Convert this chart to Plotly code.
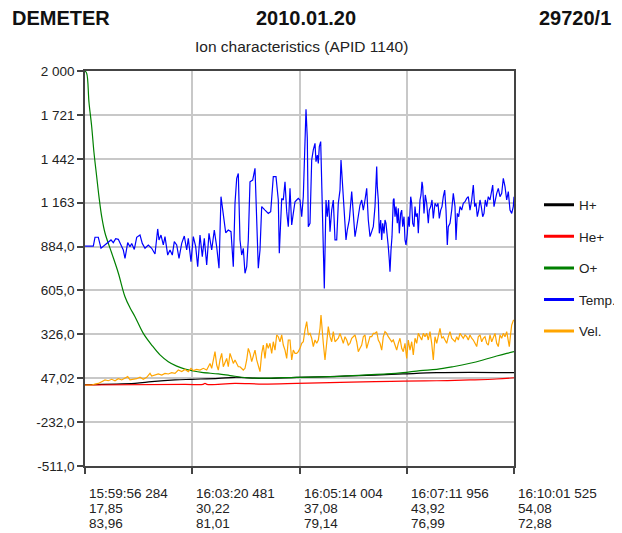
import plotly.graph_objects as go

# x positions are sample positions along the orbit segment (0..429, ticks every quarter)
x_ticks = [0, 107.25, 214.5, 321.75, 429]
x_labels = [
    ["15:59:56 284", "17,85", "83,96"],
    ["16:03:20 481", "30,22", "81,01"],
    ["16:05:14 004", "37,08", "79,14"],
    ["16:07:11 956", "43,92", "76,99"],
    ["16:10:01 525", "54,08", "72,88"],
]
y_ticks = [2000, 1721, 1442, 1163, 884, 605, 326, 47.02, -232, -511]
y_labels = ["2 000", "1 721", "1 442", "1 163", "884,0", "605,0", "326,0", "47,02", "-232,0", "-511,0"]

# Temp.
temp_x = [0, 8.3, 10, 13.3, 16, 20, 23.3, 26, 28.3, 30.7, 33.3, 36, 38.3, 40, 42.7, 45, 46.7, 49.3, 51.7, 55,
          57.3, 60, 63.3, 66.7, 70, 72.7, 74, 76, 78.3, 80, 82.7, 85, 87.3, 89.3, 91.7, 94, 96.7, 99.3, 101.7, 103.3,
          106, 108.3, 110.7, 112.7, 115, 117.3, 119.3, 121.7, 124, 126.7, 129.3, 131.7, 134, 136, 138.3, 140.7, 143.3, 146, 148.3,
          150, 151.7, 153.3, 155, 156.7, 158.3, 160, 161.7, 163.3, 165, 167.7, 170, 171.7, 173.3, 175, 176.7, 180, 183.3, 185.7, 188.3,
          191, 193.3, 194.3, 195.7, 196.7, 198.3, 200, 201.7, 203.3, 205, 206.7, 208.3, 210, 211.7, 213.3, 215, 216.7, 218.3, 220, 221,
          222.3, 223.3, 225, 226.7, 228.3, 230, 231, 232.3, 233.3, 234.3, 235.7, 236.7, 238.3, 239.3, 241, 242.3, 243.7, 245, 246.7, 248.3,
          250, 251.7, 253.3, 255, 256, 257.7, 259, 261, 262.3, 264.3, 266.7, 268.3, 270, 271.7, 273.3, 275, 276.7, 278.3, 280, 281.7,
          283.3, 285, 286.7, 288.3, 290, 291, 291.7, 292.3, 293.3, 294.3, 295.7, 296.7, 297.7, 299, 300, 301, 302.3, 303.3, 304.3, 305,
          306, 307, 308.3, 309, 310, 311, 312.3, 313.3, 314.3, 315.7, 316.7, 317.7, 319, 320, 321, 322.3, 323.3, 324.3, 325.7, 326.7,
          327.7, 329, 330, 331, 332.3, 333.3, 335, 336, 337, 337.7, 339, 340.3, 341.7, 343.3, 344.3, 345.7, 347, 348.3, 350, 351.7,
          353, 354.3, 355.7, 357, 358.3, 359.7, 361, 362.3, 363.3, 365, 366.7, 368.3, 370, 371, 372.3, 373.7, 375, 376.7, 378.3, 380,
          381.7, 383.3, 385, 386.7, 388.3, 389.7, 391, 392.3, 393.7, 395, 396.3, 397.7, 399, 400.3, 401.7, 403.3, 405, 406.7, 407.7, 409,
          410, 411.7, 413.3, 415, 416.7, 418.3, 420, 421.7, 423.3, 425, 426.7, 428.3, 429]
temp_y = [887, 887, 943, 943, 873, 894, 915, 926, 909, 934, 930, 894, 862, 809, 909, 883, 904, 866, 943, 957,
          904, 873, 894, 873, 837, 996, 926, 957, 894, 947, 830, 862, 830, 915, 894, 809, 904, 951, 862, 936,
          788, 947, 883, 756, 957, 820, 936, 767, 968, 862, 989, 883, 746, 1201, 1085, 972, 989, 979, 756,
          1159, 1318, 1349, 926, 830, 873, 714, 756, 926, 1296, 1307, 1381, 1074, 746, 862, 1138, 1116, 1095, 1106, 1328,
          1328, 1180, 841, 1042, 1190, 1180, 1296, 1106, 1010, 1254, 1021, 1095, 1169, 1180, 1190, 1180, 1074, 1201, 1614, 1756,
          1572, 1010, 1032, 1434, 1498, 1540, 1424, 1466, 1413, 1519, 1551, 1307, 862, 618, 1180, 1074, 1180, 979, 1116, 1180,
          926, 926, 1159, 1243, 1434, 1265, 1095, 926, 989, 1053, 1233, 1116, 947, 1010, 1095, 1148, 1180, 1116, 1180, 1254,
          1053, 947, 979, 1010, 1138, 1307, 1392, 1265, 1180, 968, 1053, 926, 1032, 968, 1053, 1032, 968, 883, 798, 724,
          862, 947, 1180, 1190, 1074, 1138, 1032, 1127, 968, 1095, 1116, 1010, 1074, 926, 894, 968, 1074, 1010, 1201, 1159,
          1032, 1010, 1138, 1074, 1095, 968, 1180, 1212, 1296, 1265, 1095, 1212, 1159, 1032, 1116, 1138, 1180, 1063, 1159, 1138,
          1159, 1063, 1116, 1138, 1201, 1243, 1116, 894, 1010, 1032, 1116, 1222, 1138, 926, 1095, 1074, 1138, 1116, 1159, 1169,
          1190, 1201, 1116, 1180, 1275, 1138, 1159, 1074, 1116, 1180, 1138, 1074, 1095, 1180, 1138, 1201, 1180, 1254, 1275, 1138,
          1180, 1222, 1254, 1201, 1222, 1318, 1265, 1180, 1233, 1116, 1095, 1138, 1201]

# Vel.
vel_x = [0, 3.3, 6.7, 10, 13.3, 16.7, 20, 23.3, 26.7, 30, 33.3, 36.7, 40, 42.7, 45, 48.3, 51.7, 55, 58.3, 61.7,
         65, 66.7, 70, 73.3, 76.7, 80, 83.3, 86.7, 90, 93.3, 96.7, 100, 103.3, 106, 108.3, 111.7, 115, 118.3, 121.7, 125,
         126.7, 128.3, 130, 131.7, 133.3, 135, 136.7, 138.3, 140, 141.7, 143.3, 145, 146.7, 148.3, 150, 151.7, 153.3, 155, 156.7, 158.3,
         160, 161.7, 163.3, 165, 166.7, 168.3, 170, 171.7, 173.3, 175, 176.7, 178.3, 180, 181.7, 183.3, 185, 186.7, 188.3, 190, 191.7,
         193.3, 195, 196.7, 198.3, 200, 201.7, 203.3, 205, 206.7, 208.3, 210, 211.7, 213.3, 215, 216.7, 218.3, 220, 221.7, 223.3, 225,
         226.7, 228.3, 230, 231.7, 233.3, 235, 236, 237, 238.3, 240, 241.7, 243.3, 245, 246.7, 248.3, 250, 251.7, 253.3, 255, 256.7,
         258.3, 260, 261.7, 263.3, 265, 266.7, 268.3, 270, 271.7, 273.3, 275, 276.7, 278.3, 280, 281.7, 283.3, 285, 286.7, 288.3, 290,
         291.7, 293.3, 295, 296.7, 298.3, 300, 301.7, 303.3, 305, 306.7, 308.3, 310, 311.7, 313.3, 315, 316.7, 318.3, 320, 321.7, 323.3,
         325, 326.7, 328.3, 330, 331.7, 333.3, 335, 336.7, 338.3, 340, 341.7, 343.3, 345, 346.7, 348.3, 350, 351.7, 353.3, 355, 356.7,
         358.3, 360, 361.7, 363.3, 365, 366.7, 368.3, 370, 371.7, 373.3, 375, 376.7, 378.3, 380, 381.7, 383.3, 385, 386.7, 388.3, 390,
         391.7, 393.3, 395, 396.7, 398.3, 400, 401.7, 403.3, 405, 406.7, 408.3, 410, 411.7, 413.3, 415, 416.7, 418.3, 420, 421.7, 423.3,
         424.3, 425.7, 426.7, 428.3, 429]
vel_y = [4, 4, 4, 10, 14, 25, 36, 31, 40, 31, 44, 36, 46, 57, 36, 40, 44, 53, 40, 53,
         78, 61, 67, 74, 67, 78, 74, 82, 78, 99, 89, 103, 89, 110, 95, 103, 99, 110, 99, 141,
         110, 173, 216, 131, 99, 163, 205, 120, 152, 173, 120, 205, 173, 141, 163, 142, 120, 120, 110, 99,
         110, 163, 237, 205, 152, 195, 226, 163, 131, 89, 205, 258, 173, 269, 237, 269, 205, 279, 226, 322,
         311, 279, 322, 258, 226, 173, 290, 290, 163, 226, 205, 205, 216, 237, 269, 279, 354, 407, 322, 332,
         301, 248, 290, 269, 290, 364, 449, 354, 269, 163, 279, 375, 311, 279, 343, 279, 290, 301, 332, 290,
         269, 311, 290, 258, 269, 301, 311, 322, 279, 216, 237, 258, 311, 322, 237, 269, 311, 311, 332, 332,
         343, 290, 269, 226, 311, 343, 332, 311, 290, 279, 290, 258, 226, 269, 301, 237, 216, 269, 173, 290,
         226, 279, 195, 301, 269, 332, 311, 290, 332, 311, 332, 290, 343, 269, 163, 311, 269, 311, 364, 301,
         311, 290, 269, 311, 343, 301, 290, 279, 311, 290, 332, 311, 301, 322, 311, 290, 322, 301, 290, 269,
         248, 311, 322, 279, 301, 311, 269, 258, 322, 279, 311, 332, 269, 248, 322, 301, 332, 311, 343, 279,
         248, 332, 385, 413, 417]

# O+
o_x = [0, 1.7, 4, 6.7, 9, 11.7, 14, 16.7, 20, 26.7, 33.3, 40, 45, 50, 58.3, 66.7, 75, 83.3, 91.7, 100,
       108.3, 116.7, 133.3, 145, 161.7, 178, 211.7, 245, 278, 301.7, 318, 335, 351.7, 368, 385, 398, 411.7, 421.7, 429]
o_y = [2000, 1985, 1800, 1646, 1480, 1328, 1200, 1074, 970, 843, 716, 565, 495, 438, 332, 258, 195, 152, 124, 105,
       93, 84, 74, 64, 50, 47, 53, 57, 67, 74, 82, 95, 103, 120, 142, 163, 188, 205, 216]

# H+
h_x = [0, 50, 66.7, 90, 106.7, 133.3, 150, 178, 211.7, 245, 290, 318, 351.7, 385, 429]
h_y = [6, 14, 25, 36, 40, 46, 53, 46, 53, 57, 67, 74, 82, 84, 82]

# He+
he_x = [0, 100, 118, 120, 122, 150, 178, 211.7, 245, 290, 318, 351.7, 385, 411.7, 429]
he_y = [4, 8, 8, 14, 8, 14, 10, 14, 19, 25, 29, 31, 36, 42, 50]

series = [
    ("H+", h_x, h_y, "#000000", "spline"),
    ("He+", he_x, he_y, "#ff0000", "spline"),
    ("O+", o_x, o_y, "#008000", "spline"),
    ("Temp.", temp_x, temp_y, "#0000ff", "linear"),
    ("Vel.", vel_x, vel_y, "#ffa500", "linear"),
]

FONT = "Arial, Liberation Sans, sans-serif"
# the page body keeps its default 8px margin, so the figure is drawn 8px smaller
W, H, PAD = 622, 533, 8
L, T = 85 - PAD, 71 - PAD

fig = go.Figure()
for name, xs, ys, color, shape in series:
    fig.add_trace(go.Scatter(x=xs, y=ys, mode="lines", name=name, showlegend=False,
                             line=dict(color=color, width=1.2, shape=shape)))
# legend swatches (thicker lines than the traces)
for name, xs, ys, color, shape in series:
    fig.add_trace(go.Scatter(x=[None], y=[None], mode="lines", name=name, legendgroup=name,
                             line=dict(color=color, width=3)))

fig.update_xaxes(range=[0, 429], tickvals=x_ticks, showticklabels=False, automargin=False,
                 ticks="outside", ticklen=6, tickcolor="#444", tickwidth=1.5,
                 showline=True, linecolor="#444", linewidth=1.5, mirror=True,
                 showgrid=True, gridcolor="#c8c8c8", gridwidth=1.5, zeroline=False)
fig.update_yaxes(range=[-511, 2000], tickvals=y_ticks, ticktext=y_labels, automargin=False,
                 ticks="outside", ticklen=6, tickcolor="#444", tickwidth=1.5,
                 showline=True, linecolor="#444", linewidth=1.5, mirror=True,
                 showgrid=True, gridcolor="#c8c8c8", gridwidth=1.5, zeroline=False,
                 tickfont=dict(family=FONT, size=13.5, color="#222"))

# three label rows under each x tick, 15px apart
for xv, lines in zip(x_ticks, x_labels):
    for row, line in enumerate(lines):
        fig.add_annotation(x=xv, y=0, xref="x", yref="paper", xanchor="left", yanchor="top",
                           xshift=2, yshift=-18 - 15 * row, align="left", showarrow=False,
                           text=line, font=dict(family=FONT, size=13.5, color="#222"))


def px(v):
    return (v - 85) / 429


def py(v):
    return (466 - v) / 395


head = dict(xref="paper", yref="paper", showarrow=False, yanchor="middle",
            font=dict(family=FONT, size=20, color="#111"))
fig.add_annotation(text="<b>DEMETER</b>", x=px(10), y=py(18), xanchor="left", **head)
fig.add_annotation(text="<b>2010.01.20</b>", x=px(306), y=py(18), xanchor="center", **head)
fig.add_annotation(text="<b>29720/1</b>", x=px(613), y=py(18), xanchor="right", **head)
fig.add_annotation(text="Ion characteristics (APID 1140)", x=px(301), y=py(47), xanchor="center",
                   xref="paper", yref="paper", showarrow=False, yanchor="middle",
                   font=dict(family=FONT, size=15.5, color="#222"))

fig.update_layout(
    width=W - PAD, height=H - PAD,
    margin=dict(l=L, r=W - 514, t=T, b=H - 466, autoexpand=False),
    paper_bgcolor="white", plot_bgcolor="white",
    legend=dict(x=px(539), y=py(268), xanchor="left", yanchor="middle", tracegroupgap=11,
                font=dict(family=FONT, size=13.5, color="#222"), bgcolor="rgba(0,0,0,0)"),
)

fig.write_html("out.html")
